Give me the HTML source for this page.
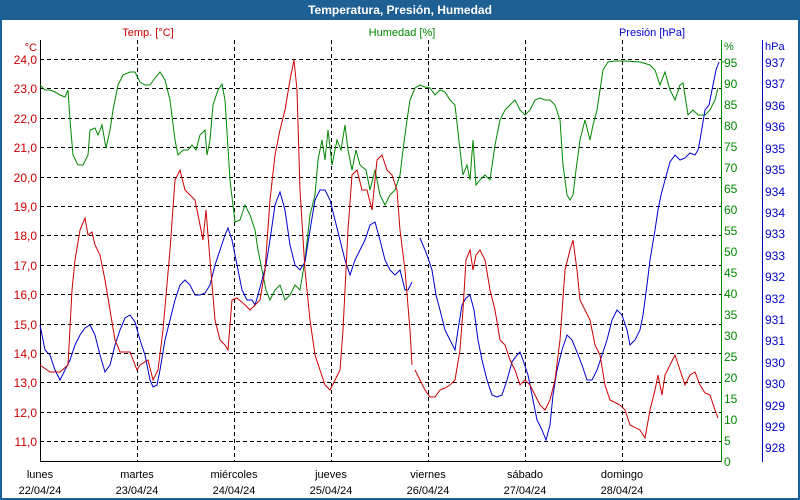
<!DOCTYPE html>
<html><head><meta charset="utf-8"><style>
body{margin:0;background:#fff}
svg{display:block;font-family:"Liberation Sans",Tahoma,sans-serif}
</style></head><body>
<svg width="800" height="500" xmlns="http://www.w3.org/2000/svg">
<rect x="0" y="0" width="800" height="500" fill="#1e5f94"/>
<rect x="2" y="20" width="796" height="478" fill="#fff"/>
<text x="400" y="14" fill="#fff" font-size="12" font-weight="bold" text-anchor="middle">Temperatura, Presión, Humedad</text>
<g stroke="#000" stroke-dasharray="4,3" stroke-width="1">
<line x1="40" x2="721" y1="59.5" y2="59.5"/><line x1="40" x2="721" y1="88.5" y2="88.5"/><line x1="40" x2="721" y1="118.5" y2="118.5"/><line x1="40" x2="721" y1="147.5" y2="147.5"/><line x1="40" x2="721" y1="177.5" y2="177.5"/><line x1="40" x2="721" y1="206.5" y2="206.5"/><line x1="40" x2="721" y1="235.5" y2="235.5"/><line x1="40" x2="721" y1="265.5" y2="265.5"/><line x1="40" x2="721" y1="294.5" y2="294.5"/><line x1="40" x2="721" y1="324.5" y2="324.5"/><line x1="40" x2="721" y1="353.5" y2="353.5"/><line x1="40" x2="721" y1="382.5" y2="382.5"/><line x1="40" x2="721" y1="412.5" y2="412.5"/><line x1="40" x2="721" y1="441.5" y2="441.5"/>
<line x1="137.5" x2="137.5" y1="40" y2="461"/><line x1="234.5" x2="234.5" y1="40" y2="461"/><line x1="331.5" x2="331.5" y1="40" y2="461"/><line x1="428.5" x2="428.5" y1="40" y2="461"/><line x1="525.5" x2="525.5" y1="40" y2="461"/><line x1="622.5" x2="622.5" y1="40" y2="461"/>
</g>
<line x1="40.5" x2="40.5" y1="40" y2="462" stroke="#000"/>
<line x1="40" x2="721" y1="461.5" y2="461.5" stroke="#000"/>
<line x1="721.5" x2="721.5" y1="40" y2="462" stroke="#080"/>
<line x1="762.5" x2="762.5" y1="40" y2="462" stroke="#00c"/>
<g font-size="12" fill="#c00" text-anchor="end">
<text x="37" y="51" font-size="11">°C</text>
<text x="37" y="64">24,0</text><text x="37" y="93">23,0</text><text x="37" y="123">22,0</text><text x="37" y="152">21,0</text><text x="37" y="182">20,0</text><text x="37" y="211">19,0</text><text x="37" y="240">18,0</text><text x="37" y="270">17,0</text><text x="37" y="299">16,0</text><text x="37" y="329">15,0</text><text x="37" y="358">14,0</text><text x="37" y="387">13,0</text><text x="37" y="417">12,0</text><text x="37" y="446">11,0</text>
</g>
<text x="148" y="36" font-size="11" fill="#c00" text-anchor="middle">Temp. [°C]</text>
<text x="402" y="36" font-size="11" fill="#080" text-anchor="middle">Humedad [%]</text>
<text x="652" y="36" font-size="11" fill="#00c" text-anchor="middle">Presión [hPa]</text>
<g font-size="12" fill="#080">
<text x="724" y="50" font-size="11">%</text>
<text x="724" y="67">95</text><text x="724" y="88">90</text><text x="724" y="109">85</text><text x="724" y="130">80</text><text x="724" y="151">75</text><text x="724" y="172">70</text><text x="724" y="193">65</text><text x="724" y="214">60</text><text x="724" y="235">55</text><text x="724" y="256">50</text><text x="724" y="277">45</text><text x="724" y="298">40</text><text x="724" y="319">35</text><text x="724" y="340">30</text><text x="724" y="361">25</text><text x="724" y="382">20</text><text x="724" y="403">15</text><text x="724" y="424">10</text><text x="724" y="445">5</text><text x="724" y="466">0</text>
</g>
<g stroke="#080"><line x1="721" x2="724" y1="62" y2="62"/></g>
<g font-size="12" fill="#00c">
<text x="765" y="50" font-size="11">hPa</text>
<text x="765" y="67">937</text><text x="765" y="88">937</text><text x="765" y="110">936</text><text x="765" y="131">936</text><text x="765" y="153">935</text><text x="765" y="174">935</text><text x="765" y="196">934</text><text x="765" y="217">934</text><text x="765" y="238">933</text><text x="765" y="260">933</text><text x="765" y="281">932</text><text x="765" y="303">932</text><text x="765" y="324">931</text><text x="765" y="345">931</text><text x="765" y="367">930</text><text x="765" y="388">930</text><text x="765" y="410">929</text><text x="765" y="431">929</text><text x="765" y="452">928</text>
</g>
<g font-size="11" fill="#000" text-anchor="middle">
<text x="40" y="478">lunes</text><text x="40" y="494">22/04/24</text>
<text x="137" y="478">martes</text><text x="137" y="494">23/04/24</text>
<text x="234" y="478">miércoles</text><text x="234" y="494">24/04/24</text>
<text x="331" y="478">jueves</text><text x="331" y="494">25/04/24</text>
<text x="428" y="478">viernes</text><text x="428" y="494">26/04/24</text>
<text x="525" y="478">sábado</text><text x="525" y="494">27/04/24</text>
<text x="622" y="478">domingo</text><text x="622" y="494">28/04/24</text>
</g>
<g fill="none" stroke-width="1">
<polyline stroke="#080" points="40,85 45,90 50,90 55,92 60,95 65,97 68,90 70,120 73,155 78,165 83,165 88,155 90,130 95,128 98,135 102,125 106,148 110,130 113,110 118,85 123,75 130,72 135,72 140,82 145,85 150,85 155,78 160,72 165,80 170,100 175,140 178,155 183,150 188,150 192,145 196,150 200,135 205,130 207,155 210,140 213,105 218,90 222,84 225,100 230,180 235,222 240,220 245,205 250,215 255,230 258,250 262,270 266,290 270,300 275,290 280,285 285,300 290,295 295,285 300,290 305,260 310,215 315,195 318,160 322,140 325,160 328,130 332,165 337,140 341,150 345,125 348,150 352,170 356,150 360,165 366,170 370,190 375,170 380,195 385,205 390,195 395,190 400,175 403,150 407,120 410,100 415,88 420,85 425,87 430,88 435,95 440,90 445,92 450,100 455,105 460,150 463,175 467,165 470,180 473,140 476,185 480,180 485,175 490,180 495,145 500,120 505,110 510,105 515,100 520,110 525,115 530,110 535,100 540,98 545,100 550,100 555,105 560,120 563,165 567,195 570,200 573,195 576,170 580,140 585,120 590,140 593,125 597,110 600,90 603,70 608,62 615,61 625,61 640,62 650,65 655,70 660,85 665,72 670,90 675,100 680,85 683,83 688,115 693,110 698,115 705,115 710,110 715,100 718,88"/>
<polyline stroke="#00c" points="40,325 45,350 50,355 55,370 60,380 65,370 70,360 75,345 80,335 85,328 90,325 95,335 100,355 105,372 110,365 115,345 120,330 125,318 130,315 135,322 140,340 145,355 150,380 153,387 157,385 160,370 165,340 170,320 175,300 180,285 185,280 190,285 195,295 200,295 205,293 210,285 215,265 220,250 225,235 228,228 232,240 237,265 242,290 247,300 252,300 255,305 258,295 262,280 266,265 270,240 275,205 280,192 285,210 290,245 295,265 300,270 305,262 310,230 315,200 320,190 325,190 330,200 335,220 340,240 345,260 350,275 355,260 360,250 365,240 370,225 375,222 380,240 385,260 390,270 395,275 400,270 405,290 408,290 412,282"/>
<polyline stroke="#00c" points="420,238 425,250 428,258 432,270 436,295 440,310 445,330 450,340 455,350 458,330 462,305 466,298 470,295 474,310 478,340 482,360 487,380 492,395 497,397 502,395 507,380 512,362 517,355 520,352 523,360 528,375 532,395 537,420 542,430 546,440 550,425 553,395 557,370 562,350 567,335 572,340 577,352 582,365 587,380 592,380 597,370 602,355 607,340 612,320 617,310 622,315 627,330 630,345 635,340 640,330 643,315 647,285 650,260 655,230 658,210 661,195 665,180 670,162 675,155 680,160 685,158 690,153 695,155 698,150 700,140 705,110 709,105 712,90 716,70 719,62"/>
<polyline stroke="#c00" points="40,365 50,372 60,372 68,365 72,290 75,260 80,230 85,218 88,235 92,232 95,245 100,255 105,280 110,310 115,340 120,352 130,352 137,370 140,365 148,360 153,380 158,370 163,330 170,250 175,180 180,170 185,190 190,195 195,200 200,225 203,240 206,210 210,260 215,320 220,340 225,345 228,350 232,300 237,298 245,305 250,310 255,305 260,300 265,270 270,200 275,155 280,130 285,110 290,80 294,60 297,90 300,190 305,270 310,320 315,355 320,370 325,385 330,390 335,380 340,370 343,330 348,230 352,175 357,170 362,190 367,190 372,210 377,160 382,155 387,170 392,175 397,190 400,230 405,270 410,330 412,365"/>
<polyline stroke="#c00" points="415,370 420,380 425,390 430,397 435,397 440,390 445,388 450,385 455,380 460,350 463,310 466,260 470,250 473,270 476,255 480,250 485,260 490,290 495,310 500,340 505,345 510,360 515,370 520,385 525,380 530,385 535,395 540,405 545,410 550,400 555,380 560,340 565,270 570,250 573,240 577,270 580,300 585,310 590,320 595,345 600,355 605,385 610,400 620,405 625,410 630,425 640,430 645,438 650,410 655,390 658,375 662,395 665,375 670,365 675,355 680,370 685,385 690,375 695,372 700,385 705,393 710,395 715,410 718,418"/>
</g>
</svg>
</body></html>
